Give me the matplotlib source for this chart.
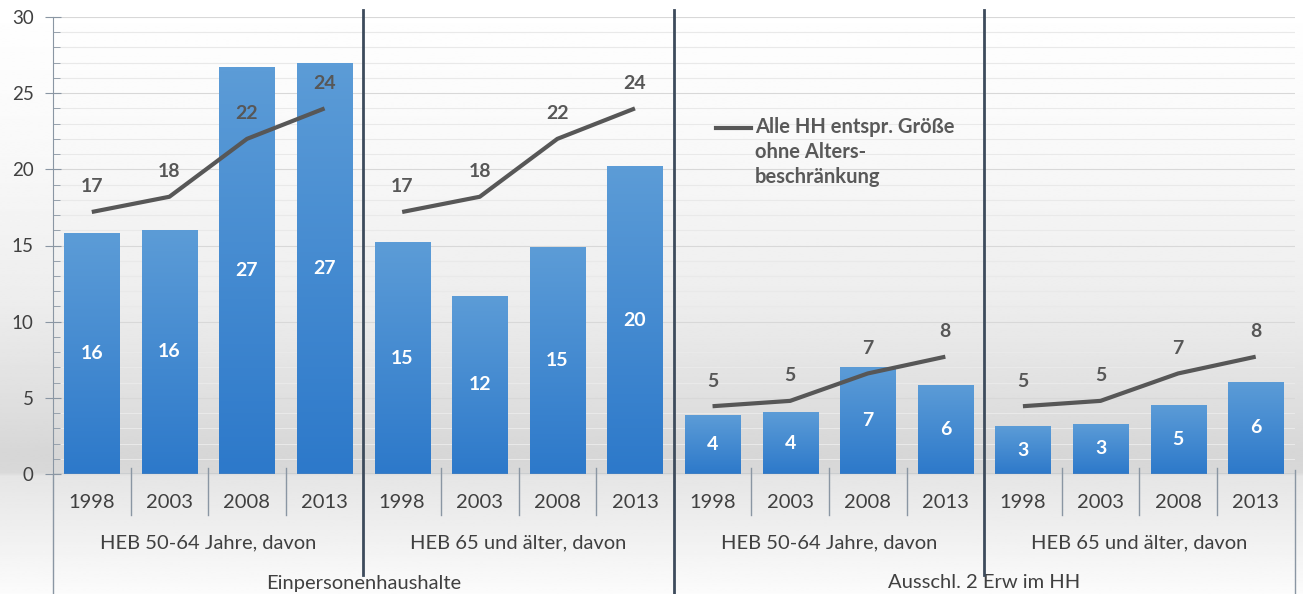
import numpy as np
import matplotlib
matplotlib.use("Agg")
import matplotlib.pyplot as plt
from matplotlib.transforms import blended_transform_factory
from matplotlib.colors import LinearSegmentedColormap

plt.rcParams['font.family'] = ['Lato', 'DejaVu Sans']

# ---- data ----
years = ["1998", "2003", "2008", "2013"]
sub_groups = ["HEB 50-64 Jahre, davon", "HEB 65 und älter, davon",
              "HEB 50-64 Jahre, davon", "HEB 65 und älter, davon"]
main_groups = ["Einpersonenhaushalte", "Ausschl. 2 Erw im HH"]
bar_values = [15.8, 16.05, 26.7, 27.0,
              15.2, 11.7, 14.9, 20.2,
              3.85, 4.05, 7.05, 5.85,
              3.15, 3.3, 4.55, 6.05]
bar_labels = ["16", "16", "27", "27", "15", "12", "15", "20",
              "4", "4", "7", "6", "3", "3", "5", "6"]
line_values = [17.2, 18.2, 22.0, 24.0,
               17.2, 18.2, 22.0, 24.0,
               4.45, 4.8, 6.6, 7.7,
               4.45, 4.8, 6.6, 7.7]
line_labels = ["17", "18", "22", "24", "17", "18", "22", "24",
               "5", "5", "7", "8", "5", "5", "7", "8"]
legend_label = "Alle HH entspr. Größe\nohne Alters-\nbeschränkung"

W, H = 1303, 594
fig = plt.figure(figsize=(W / 100, H / 100), dpi=100)

def fy(py):
    return 1 - py / H

def fx(px):
    return px / W

# background gradient for whole figure
bg = fig.add_axes([0, 0, 1, 1], zorder=-10)
bg.set_axis_off()
ys = np.linspace(0, H, 300)
stops_y = [0, 150, 300, 410, 455, 474, 476, 520, 594]
stops_v = [1.0, 0.975, 0.93, 0.87, 0.84, 0.85, 0.90, 0.93, 0.985]
vals = np.interp(ys, stops_y, stops_v)
img = np.repeat(vals[:, None], 2, axis=1)
bg.imshow(img, cmap="gray", vmin=0, vmax=1, aspect="auto",
          extent=[0, 1, 1, 0], interpolation="bilinear")
bg.set_xlim(0, 1)
bg.set_ylim(1, 0)

ax_left, ax_right = 53, 1294.5
ax_top, ax_bot = 17, 474
ax = fig.add_axes([fx(ax_left), fy(ax_bot), fx(ax_right - ax_left),
                   (ax_bot - ax_top) / H])
ax.patch.set_alpha(0)

n = len(bar_values)
x = np.arange(n)

# grid
for v in range(1, 31):
    col = "#d8d8d8" if v % 5 == 0 else "#e9e9e9"
    ax.axhline(v, color=col, lw=0.8, zorder=0)

# bars with vertical gradient
bars = ax.bar(x, bar_values, width=0.71, color="#4a8fd6", zorder=2, linewidth=0)
cmap = LinearSegmentedColormap.from_list("b", ["#2d79ca", "#5c9cd7"])
grad = np.linspace(0, 1, 100)[:, None]
for b in bars:
    x0, w, h = b.get_x(), b.get_width(), b.get_height()
    im = ax.imshow(grad, cmap=cmap, aspect="auto", origin="lower",
                   extent=[x0, x0 + w, 0, h], zorder=2.1)
    im.set_clip_path(b)
ax.set_xlim(-0.5, n - 0.5)
ax.set_ylim(0, 30)

for i, (v, lab) in enumerate(zip(bar_values, bar_labels)):
    ax.text(x[i], v / 2, lab, ha="center", va="center", color="white",
            fontsize=14, fontweight="bold", zorder=4)

# lines per group
for g in range(4):
    idx = x[g * 4:(g + 1) * 4]
    ax.plot(idx, line_values[g * 4:(g + 1) * 4], color="#575757", lw=3,
            zorder=3, solid_capstyle="butt")
for i, (v, lab) in enumerate(zip(line_values, line_labels)):
    ax.annotate(lab, (x[i], v), xytext=(0, 18), textcoords="offset points",
                ha="center", va="center", color="#575757", fontsize=14,
                fontweight="bold", zorder=4)

# axes styling
for s in ["top", "right", "bottom"]:
    ax.spines[s].set_visible(False)
ax.spines["left"].set_color("#8a96a3")
ax.set_yticks(range(0, 31, 5))
ax.set_yticks(range(0, 31), minor=True)
ax.tick_params(axis="y", which="major", direction="inout", length=12,
               color="#8a96a3", labelsize=13.5, labelcolor="#404040", pad=8)
ax.tick_params(axis="y", which="minor", direction="in", length=5,
               color="#8a96a3")
ax.set_xticks([])
ax.axhline(0, color="#8a96a3", lw=1, zorder=5)

# category labels
tr = blended_transform_factory(ax.transData, fig.transFigure)
for i in range(n):
    ax.text(x[i], fy(502), years[i % 4], transform=tr, ha="center",
            va="center", fontsize=14.5, color="#404040", clip_on=False)
for g in range(4):
    ax.text(g * 4 + 1.5, fy(543), sub_groups[g], transform=tr, ha="center",
            va="center", fontsize=14.5, color="#404040", clip_on=False)
for m in range(2):
    ax.text(m * 8 + 3.5, fy(583), main_groups[m], transform=tr, ha="center",
            va="center", fontsize=14.5, color="#404040", clip_on=False)

sep = "#3d4b5c"
# small separators between years
for i in range(n + 1):
    if i % 4 != 0:
        ax.plot([i - 0.5, i - 0.5], [fy(468), fy(515)], transform=tr,
                color="#8a96a3", lw=1, clip_on=False, zorder=5)
# subgroup separators
for pos in [4, 12]:
    ax.plot([pos - 0.5, pos - 0.5], [fy(10), fy(575)], transform=tr,
            color=sep, lw=2, clip_on=False, zorder=5)
ax.plot([7.5, 7.5], [fy(10), fy(594)], transform=tr, color=sep, lw=2,
        clip_on=False, zorder=5)
ax.plot([-0.5, -0.5], [fy(474), fy(594)], transform=tr, color="#8a96a3",
        lw=1, clip_on=False, zorder=5)
ax.plot([15.5, 15.5], [fy(470), fy(594)], transform=tr, color="#8a96a3",
        lw=1, clip_on=False, zorder=5)

# legend
fig.add_artist(plt.Line2D([fx(716), fx(751)], [fy(128), fy(128)],
                          color="#575757", lw=3))
fig.text(fx(755), fy(117), legend_label, ha="left", va="top", fontsize=14.5,
         fontweight="bold", color="#595959", linespacing=1.3)

fig.savefig("out.png", dpi=100)
